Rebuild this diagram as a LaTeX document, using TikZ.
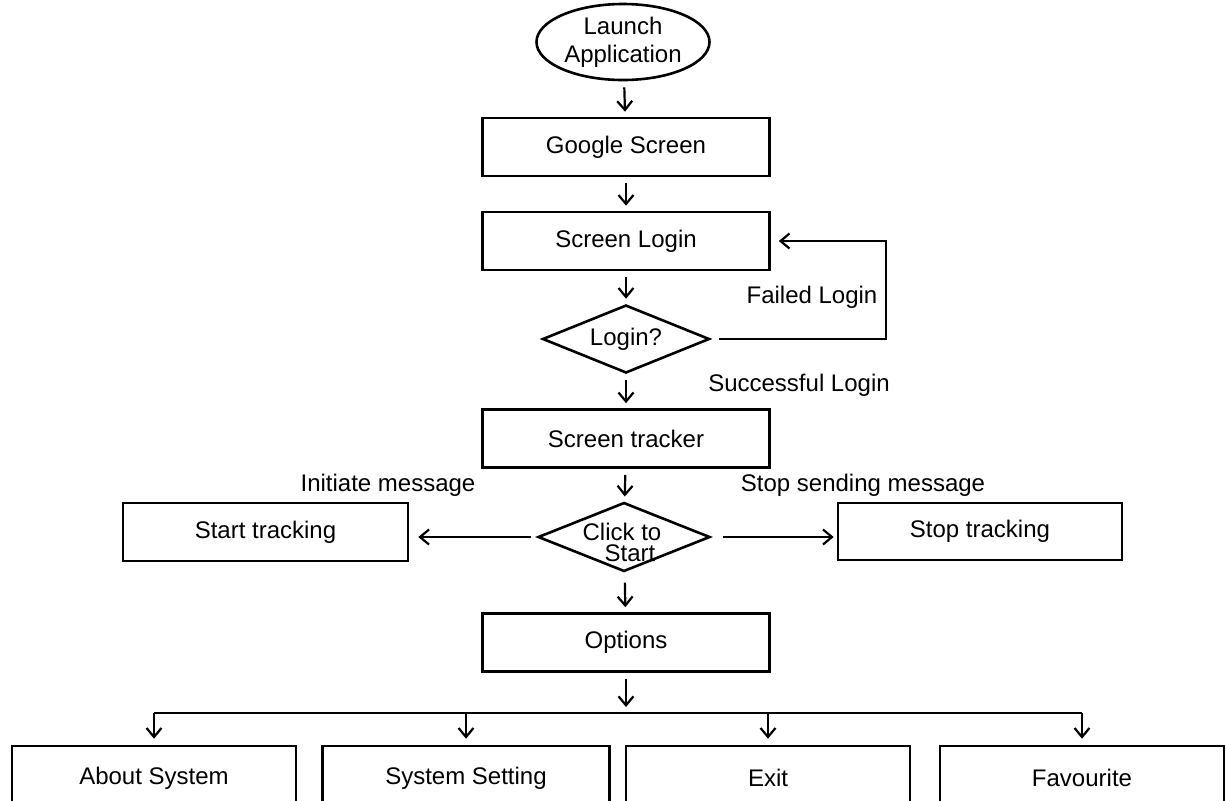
\documentclass[tikz,border=0pt]{standalone}
\usepackage{fontspec}
\setmainfont{Liberation Sans}
\usepackage{tikz}
\usetikzlibrary{shapes.geometric, arrows.meta, calc}
\tikzset{
txt/.style={font=\fontsize{12}{14}\selectfont, inner sep=0pt},
box/.style={txt, draw, rectangle, line width=1.3pt, minimum width=143.5pt, minimum height=29pt},
optbox/.style={box, minimum width=142pt, minimum height=32pt},
decision/.style={txt, draw, diamond, shape aspect=2.5, line width=1.3pt},
arr/.style={-{Straight Barb[length=4.5pt,width=7.5pt,line width=1.1pt]}, line width=1.1pt, shorten <=3pt, shorten >=2.5pt}
}

\begin{document}
\begin{tikzpicture}[x=0.5pt,y=-0.5pt]
 \useasboundingbox (0,0) rectangle (1226,800);
 \clip (0,0) rectangle (1226,800);

 % main column
 \node (launch) [txt, draw, ellipse, line width=1.3pt, minimum width=86.5pt, minimum height=38pt, align=center] at (623,42) {Launch\\Application};
 \node (google) [box] at (626,147) {Google Screen};
 \node (slogin) [box] at (626,241) {Screen Login};
 \node (login) [decision, minimum width=83.5pt, minimum height=34pt] at (626,339) {Login?};
 \node (tracker) [box] at (626,438.5) {Screen tracker};
 \node (click) [decision, minimum width=86pt, minimum height=34.5pt] at (624,537) {};
 \node (clicktext) [txt, align=center, font=\fontsize{12}{10.5}\selectfont] at (622,542) {Click to\\\hspace*{8pt}Start};
 \node (options) [box] at (626,642.5) {Options};

 \draw[arr] (launch) -- (google);
 \draw[arr] (google) -- (slogin);
 \draw[arr] (slogin) -- (login);
 \draw[arr] (login) -- (tracker);
 \draw[arr] (tracker) -- (click);
 \draw[arr, shorten <=5pt] (click) -- (options);

 % failed login loop
 \coordinate (loop) at (886,290);
 \draw[arr, shorten <=4pt, shorten >=4pt] (login.east) -| (loop) |- (slogin.east);
 \node (failed) [txt] at (812,297) {Failed Login};
 \node (success) [txt] at (799,385) {Successful Login};

 % tracking
 \node (start) [box, minimum width=142.5pt] at (265.5,532) {Start tracking};
 \node (stop) [box, minimum width=142pt, minimum height=28.5pt] at (980,531.5) {Stop tracking};
 \draw[arr, shorten >=4.5pt] (click.west) -- (click.west -| start.east);
 \draw[arr, shorten <=6pt, shorten >=1.5pt] (click.east) -- (click.east -| stop.west);
 \node (initiate) [txt] at (388,485) {Initiate message};
 \node (stopmsg) [txt] at (863,485) {Stop sending message};

 % options
 \node (about) [optbox] at (154,778) {About System};
 \node (setting) [optbox, minimum width=143.5pt] at (466,778) {System Setting};
 \node (exit) [optbox] at (768,778) {Exit};
 \node (fav) [optbox] at (1082,778) {Favourite};

 \coordinate (bus) at (626,713);
 \draw[arr, shorten >=3pt] (options) -- (bus);
 \draw[line width=1.1pt] (about.north |- bus) -- (fav.north |- bus);
 \foreach \n in {about, setting, exit, fav}
  \draw[arr, shorten <=0pt, shorten >=3pt] (\n.north |- bus) -- (\n.north);

\end{tikzpicture}
\end{document}
